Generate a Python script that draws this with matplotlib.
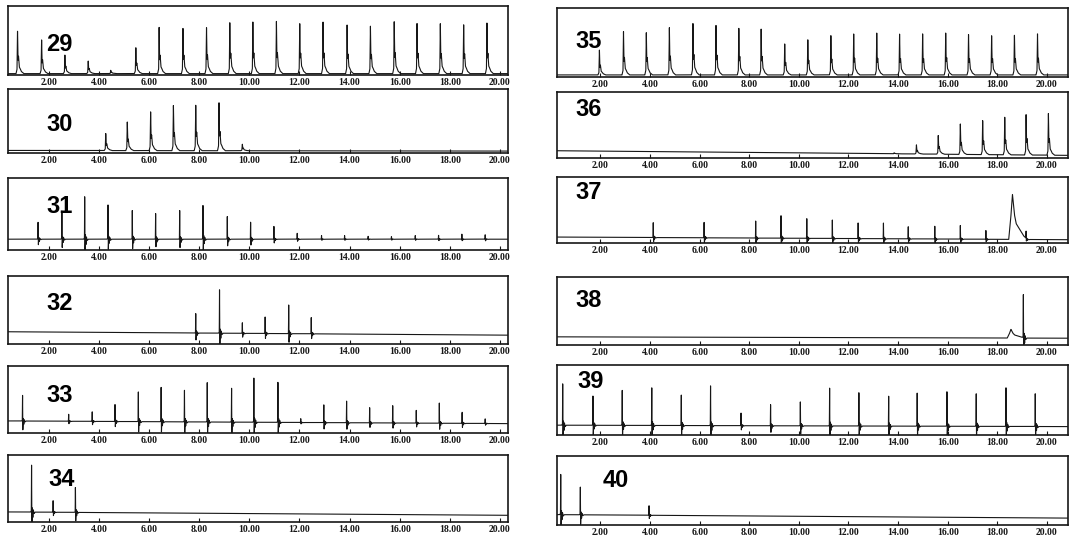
import numpy as np
import matplotlib.pyplot as plt

# retention times (min) and peak tops (fraction of panel height)
t29 = [0.75, 1.71, 2.64, 3.57, 4.47, 5.47, 6.40, 7.35, 8.29, 9.22, 10.14, 11.08, 12.01, 12.94, 13.90, 14.83, 15.78, 16.69, 17.62, 18.55, 19.48]
h29 = [0.66, 0.53, 0.29, 0.21, 0.07, 0.41, 0.69, 0.70, 0.71, 0.76, 0.77, 0.78, 0.77, 0.77, 0.73, 0.73, 0.78, 0.77, 0.75, 0.75, 0.76]
t30 = [4.27, 5.13, 6.06, 6.97, 7.86, 8.79, 9.72]
h30 = [0.31, 0.49, 0.66, 0.75, 0.77, 0.79, 0.14]
t31 = [1.57, 2.52, 3.43, 4.36, 5.33, 6.26, 7.22, 8.15, 9.12, 10.05, 10.98, 11.91, 12.88, 13.80, 14.74, 15.67, 16.62, 17.55, 18.48, 19.41]
h31 = [0.40, 0.56, 0.78, 0.65, 0.58, 0.52, 0.56, 0.66, 0.47, 0.41, 0.33, 0.24, 0.20, 0.20, 0.19, 0.19, 0.20, 0.21, 0.22, 0.22]
t32 = [7.86, 8.81, 9.72, 10.63, 11.57, 12.47]
h32 = [0.48, 0.81, 0.33, 0.40, 0.58, 0.39]
t33 = [0.95, 2.79, 3.73, 4.64, 5.57, 6.48, 7.41, 8.32, 9.29, 10.18, 11.14, 12.05, 12.97, 13.88, 14.80, 15.72, 16.66, 17.58, 18.49, 19.41]
h33 = [0.60, 0.29, 0.33, 0.43, 0.66, 0.69, 0.69, 0.76, 0.72, 0.83, 0.77, 0.22, 0.45, 0.48, 0.38, 0.41, 0.34, 0.45, 0.33, 0.22]
t34 = [1.31, 2.17, 3.06]
h34 = [0.85, 0.32, 0.55]
t35 = [1.96, 2.93, 3.85, 4.78, 5.73, 6.66, 7.58, 8.48, 9.43, 10.36, 11.29, 12.21, 13.14, 14.06, 14.99, 15.92, 16.84, 17.77, 18.69, 19.62]
h35 = [0.39, 0.67, 0.66, 0.72, 0.78, 0.76, 0.71, 0.71, 0.49, 0.56, 0.61, 0.64, 0.64, 0.63, 0.63, 0.66, 0.63, 0.62, 0.63, 0.64]
t36 = [13.84, 14.74, 15.62, 16.51, 17.41, 18.30, 19.16, 20.06]
h36 = [0.08, 0.20, 0.35, 0.52, 0.58, 0.62, 0.67, 0.68]
t37 = [4.13, 6.18, 8.26, 9.28, 10.32, 11.35, 12.39, 13.41, 14.41, 15.48, 16.51, 17.54, 18.61, 19.16]
h37 = [0.31, 0.34, 0.34, 0.44, 0.37, 0.35, 0.32, 0.31, 0.26, 0.26, 0.27, 0.19, 0.74, 0.17]
t38 = [18.55, 19.05]
h38 = [0.23, 0.79]
t39 = [0.48, 1.70, 2.88, 4.07, 5.26, 6.44, 7.67, 8.86, 10.06, 11.24, 12.42, 13.62, 14.77, 15.97, 17.15, 18.35, 19.53]
h39 = [0.80, 0.60, 0.65, 0.71, 0.62, 0.71, 0.33, 0.45, 0.51, 0.68, 0.65, 0.60, 0.60, 0.64, 0.63, 0.69, 0.63]
t40 = [0.40, 1.19, 3.96]
h40 = [0.81, 0.59, 0.29]

# baseline level at start / end of each run
base = {29: (0.02, 0.02), 30: (0.04, 0.03), 31: (0.15, 0.15), 32: (0.18, 0.13),
        33: (0.18, 0.14), 34: (0.15, 0.10), 35: (0.03, 0.03), 36: (0.11, 0.04),
        37: (0.09, 0.05), 38: (0.12, 0.10), 39: (0.14, 0.12), 40: (0.15, 0.10)}

runs = {29: (t29, h29), 30: (t30, h30), 31: (t31, h31), 32: (t32, h32),
        33: (t33, h33), 34: (t34, h34), 35: (t35, h35), 36: (t36, h36),
        37: (t37, h37), 38: (t38, h38), 39: (t39, h39), 40: (t40, h40)}

# peak shapes (offset in min, relative height)
shapes = {
    'ring': ([-0.04, -0.01, 0, 0.012, 0.03, 0.05, 0.07, 0.10, 0.14],
             [0, 0.03, 1, -0.32, 0.10, -0.12, 0.05, -0.03, 0]),
    'tail': ([-0.06, -0.02, 0, 0.02, 0.04, 0.07, 0.10, 0.15, 0.25],
             [0, 0.10, 1, 0.30, 0.40, 0.15, 0.12, 0.05, 0]),
    'hump': ([-0.15, -0.07, 0, 0.08, 0.15, 0.30, 0.45, 0.60],
             [0, 0.45, 1, 0.55, 0.35, 0.22, 0.08, 0]),
}
kind = {29: 'tail', 30: 'tail', 35: 'tail', 36: 'tail'}

W, H = 1075, 542
# axes boxes in pixels: left, top, right, bottom
boxes = {29: (8, 6, 508, 75), 30: (8, 89, 508, 153), 31: (8, 178, 508, 250),
         32: (8, 276, 508, 344), 33: (8, 366, 508, 433), 34: (8, 455, 508, 522),
         35: (557, 8, 1068, 77), 36: (557, 92, 1068, 158), 37: (557, 177, 1068, 243),
         38: (557, 277, 1068, 345), 39: (557, 365, 1068, 435), 40: (557, 456, 1068, 525)}
label_pos = {29: (0.076, 0.44), 30: (0.076, 0.45), 31: (0.076, 0.60), 32: (0.076, 0.60),
             33: (0.076, 0.56), 34: (0.08, 0.64), 35: (0.036, 0.52), 36: (0.036, 0.73),
             37: (0.036, 0.77), 38: (0.036, 0.65), 39: (0.04, 0.76), 40: (0.09, 0.64)}

fig = plt.figure(figsize=(W / 100, H / 100), dpi=100)
ink = '#161616'

for n in range(29, 41):
    l, t, r, b = boxes[n]
    ax = fig.add_axes([l / W, 1 - b / H, (r - l) / W, (b - t) / H])
    lo, hi = (0.37, 20.32) if n < 35 else (0.25, 20.85)
    x = np.linspace(lo, hi, 9000)
    b0, b1 = base[n]
    y = b0 + (b1 - b0) * (x - lo) / (hi - lo)
    times, tops = runs[n]
    for i, (tp, hp) in enumerate(zip(times, tops)):
        k = kind.get(n, 'ring')
        if (n == 37 and i == 12) or (n == 38 and i == 0):
            k = 'hump'
        dx, f = shapes[k]
        amp = hp - (b0 + (b1 - b0) * (tp - lo) / (hi - lo))
        y = y + amp * np.interp(x - tp, dx, f, left=0, right=0)
    ax.plot(x, y, color=ink, lw=0.8)
    ax.set_xlim(lo, hi)
    ax.set_ylim(0, 1)
    ax.set_yticks([])
    ax.set_xticks(np.arange(2, 21, 2))
    ax.set_xticklabels(['%.2f' % v for v in np.arange(2, 21, 2)],
                       fontfamily='Liberation Serif', fontweight='bold', fontsize=7)
    ax.tick_params(axis='x', direction='in', length=3, width=0.8, pad=2, colors=ink)
    for s in ax.spines.values():
        s.set_linewidth(1.2)
        s.set_color(ink)
    lx, ly = label_pos[n]
    ax.text(lx, ly, str(n), transform=ax.transAxes, fontsize=17, fontweight='bold',
            fontfamily='Liberation Sans', color='black', va='center', ha='left')

fig.savefig('out.png', dpi=100)
